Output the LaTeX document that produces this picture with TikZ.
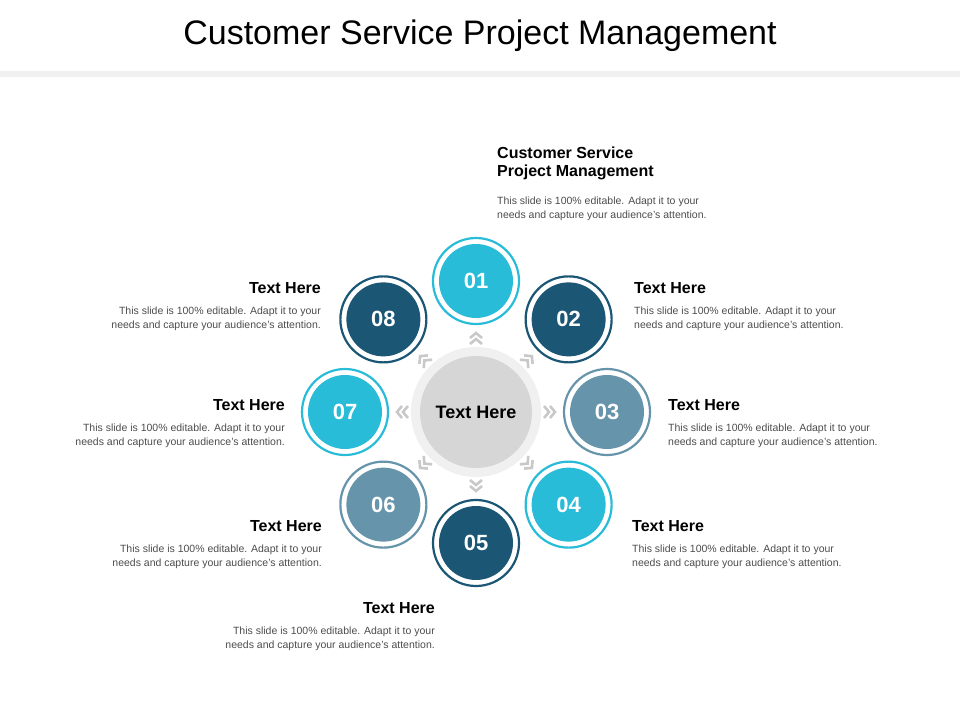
\documentclass[tikz,border=0pt]{standalone}
\usepackage{fontspec}
\setmainfont{Liberation Sans}
\usetikzlibrary{calc}
\definecolor{darkblue}{HTML}{1B5675}
\definecolor{cyanblue}{HTML}{29BCD8}
\definecolor{greyblue}{HTML}{6694AB}
\definecolor{chev}{HTML}{C8C8C8}
\tikzset{
  ring/.style={circle,draw=#1,line width=2.2pt,minimum size=86pt,inner sep=0pt},
  num/.style={circle,fill=#1,minimum size=74pt,inner sep=0pt,text=white,font=\fontsize{22}{24}\selectfont\bfseries},
  head/.style={font=\fontsize{16}{18}\selectfont\bfseries,inner sep=0pt},
  body/.style={font=\fontsize{10.5}{13.5}\selectfont,text=black!70,inner sep=0pt,align=#1},
}
\begin{document}
\begin{tikzpicture}[x=1pt,y=-1pt]
  \useasboundingbox (0,0) rectangle (960,720);
  \node[font=\fontsize{34}{36}\selectfont] (title) at (480,36) {Customer Service Project Management};
  \fill[black!6] (0,71) rectangle (960,77);

  % centre
  \node[circle,fill=black!6,minimum size=130pt] (halo) at (476,412) {};
  \node[circle,fill=black!16,minimum size=112pt,font=\fontsize{18}{20}\selectfont\bfseries] (centre) at (476,412) {Text Here};

  % chevrons
  \foreach \a in {0,45,...,315} {
    \begin{scope}[shift={(476,412)},rotate=\a]
      \draw[chev,line width=2.6pt] (68,-6) -- (73,0) -- (68,6);
      \draw[chev,line width=2.6pt] (74,-6) -- (79,0) -- (74,6);
    \end{scope}
  }

  % satellites
  \foreach \n/\a/\c in {01/-90/cyanblue,02/-45/darkblue,03/0/greyblue,04/45/cyanblue,
                        05/90/darkblue,06/135/greyblue,07/180/cyanblue,08/225/darkblue} {
    \node[ring=\c] (r\n) at ($(476,412)+(\a:131)$) {};
    \node[num=\c] (n\n) at (r\n) {\n};
  }

  % texts
  \node[head,anchor=north west,align=left] (h01) at (497,147) {Customer Service\\Project Management};
  \node[body=left,anchor=north west] (t01) at (497,197) {This slide is 100\% editable. Adapt it to your\\needs and capture your audience's attention.};

  \foreach \n/\x/\y in {02/634/288,03/668/405,04/632/526} {
    \node[head,anchor=west] (h\n) at (\x,\y) {Text Here};
    \node[body=left,anchor=north west] (t\n) at (\x,\y+19) {This slide is 100\% editable. Adapt it to your\\needs and capture your audience's attention.};
  }
  \foreach \n/\x/\y in {08/321/288,07/285/405,06/322/526,05/435/608} {
    \node[head,anchor=east] (h\n) at (\x,\y) {Text Here};
    \node[body=right,anchor=north east] (t\n) at (\x,\y+19) {This slide is 100\% editable. Adapt it to your\\needs and capture your audience's attention.};
  }
\end{tikzpicture}
\end{document}
